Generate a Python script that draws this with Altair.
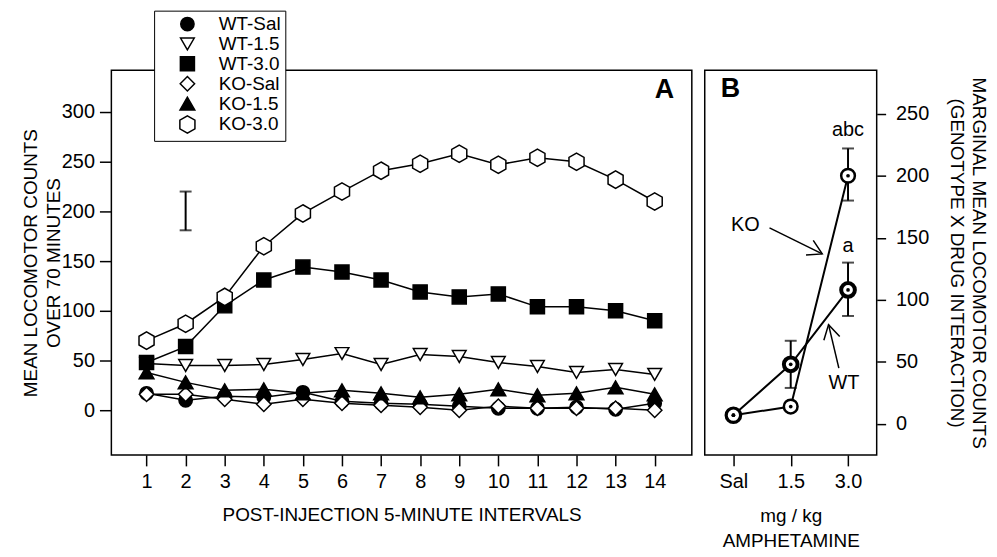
import math
import altair as alt
import pandas as pd

FONT = "Liberation Sans"

# ---------------- Panel A data ----------------
intervals = list(range(1, 15))
series_names = ["WT-Sal", "WT-1.5", "WT-3.0", "KO-Sal", "KO-1.5", "KO-3.0"]
wt_sal = [17, 10, 14, 13, 18, 9, 7, 6, 4, 2, 2, 3, 1, 7]
wt_15 = [47, 45, 45, 46, 51, 57, 46, 56, 54, 48, 44, 38, 41, 36]
wt_30 = [48, 64, 105, 131, 144, 139, 131, 119, 114, 117, 104, 104, 100, 90]
ko_sal = [16, 16, 11, 6, 11, 7, 5, 3, 0, 4, 2, 2, 2, 0]
ko_15 = [38, 28, 20, 21, 17, 20, 17, 13, 16, 21, 15, 17, 23, 16]
ko_30 = [70, 87, 114, 165, 198, 220, 241, 248, 258, 247, 254, 250, 232, 210]
series_values = [wt_sal, wt_15, wt_30, ko_sal, ko_15, ko_30]

lsd_interval = [2]
lsd_low = [181]
lsd_high = [220]
y_ticks_a = [0, 50, 100, 150, 200, 250, 300]

# ---------------- Panel B data ----------------
doses = ["Sal", "1.5", "3.0"]
dose_pos = [0, 1, 2]
genotypes = ["WT", "KO"]
wt_marginal = [7, 48, 108]
ko_marginal = [7, 14, 200]
err_genotype = ["WT", "WT", "KO"]
err_pos = [1, 2, 2]
err_low = [29, 87, 180]
err_high = [67, 130, 222]
y_ticks_b = [0, 50, 100, 150, 200, 250]
note_text = ["abc", "a", "KO", "WT"]
note_pos = [2.0, 2.0, 0.21, 1.93]
note_val = [237, 143, 160, 33]
arrow_names = ["KO", "WT"]
arrow_start_pos = [0.63, 1.84]
arrow_start_val = [158, 45]
arrow_tip_pos = [1.55, 1.66]
arrow_tip_val = [137, 80]

# ---------------- styles / geometry ----------------
HEX = "M0,-1.15L1,-0.575L1,0.575L0,1.15L-1,0.575L-1,-0.575Z"
VHEAD = "M-1,-0.58L0,0L-1,0.58"
series_shapes = ["circle", "triangle-down", "square", "diamond", "triangle-up", HEX]
series_fills = ["black", "white", "black", "white", "black", "white"]
series_strokes = ["black"] * 6
series_sizes = [180, 230, 200, 250, 230, 220]

A_W, A_H = 584, 387
B_W, B_H = 173, 387
XA_DOM = [0.1, 14.95]
YA_DOM = [-45, 342]
XB_DOM = [-0.5, 2.5]
YB_DOM = [-25, 285]

# ---------------- Panel A ----------------
dfA = pd.DataFrame(
    [
        {"series": s, "interval": i, "count": v}
        for s, vals in zip(series_names, series_values)
        for i, v in zip(intervals, vals)
    ]
)
dfLsd = pd.DataFrame({"interval": lsd_interval, "lo": lsd_low, "hi": lsd_high})
dfLetterA = pd.DataFrame({"interval": [14.25], "count": [322], "t": ["A"]})

sxA = alt.Scale(domain=XA_DOM, nice=False, zero=False)
syA = alt.Scale(domain=YA_DOM, nice=False, zero=False)
axA_x = alt.Axis(
    values=intervals,
    title="POST-INJECTION 5-MINUTE INTERVALS",
    tickSize=11,
    labelPadding=6,
    titlePadding=14,
    labelOverlap=False,
)
axA_y = alt.Axis(
    values=y_ticks_a,
    title=["MEAN LOCOMOTOR COUNTS", "OVER 70 MINUTES"],
    tickSize=12,
    labelPadding=5,
    titlePadding=-2,
    titleLineHeight=23,
    labelOverlap=False,
)


def XA(field):
    return alt.X(field, type="quantitative", scale=sxA, axis=axA_x)


def YA(field):
    return alt.Y(field, type="quantitative", scale=syA, axis=axA_y)


legendA = alt.Legend(
    title=None,
    orient="none",
    legendX=43,
    legendY=-60,
    padding=4,
    rowPadding=-2,
    symbolOffset=20,
    labelOffset=22,
    labelFont=FONT,
    labelFontSize=19,
    labelColor="black",
    strokeColor="black",
    fillColor="white",
    symbolStrokeColor="black",
    symbolStrokeWidth=1.5,
)

linesA = alt.Chart(dfA).mark_line(color="black", strokeWidth=1.5).encode(
    x=XA("interval"), y=YA("count"), detail="series:N"
)
pointsA = alt.Chart(dfA).mark_point(
    filled=True, opacity=1, strokeWidth=1.5
).encode(
    x=XA("interval"),
    y=YA("count"),
    shape=alt.Shape("series:N", scale=alt.Scale(domain=series_names, range=series_shapes), legend=legendA),
    fill=alt.Fill("series:N", scale=alt.Scale(domain=series_names, range=series_fills), legend=legendA),
    stroke=alt.Stroke("series:N", scale=alt.Scale(domain=series_names, range=series_strokes), legend=legendA),
    size=alt.Size("series:N", scale=alt.Scale(domain=series_names, range=series_sizes), legend=legendA),
)
lsdA = alt.Chart(dfLsd).mark_errorbar(ticks=True, size=12, thickness=2, color="black").encode(
    x=XA("interval"), y=YA("lo"), y2="hi:Q"
)
letterA = alt.Chart(dfLetterA).mark_text(
    font=FONT, fontSize=27, fontWeight="bold", color="black"
).encode(x=XA("interval"), y=YA("count"), text="t:N")

panelA = alt.layer(linesA, pointsA, lsdA, letterA).properties(width=A_W, height=A_H)

# ---------------- Panel B ----------------
dfB = pd.DataFrame(
    [
        {"genotype": g, "pos": p, "val": v}
        for g, vals in zip(genotypes, [wt_marginal, ko_marginal])
        for p, v in zip(dose_pos, vals)
    ]
)
dfErrB = pd.DataFrame({"genotype": err_genotype, "pos": err_pos, "lo": err_low, "hi": err_high})
dfNotes = pd.DataFrame({"pos": note_pos, "val": note_val, "t": note_text})
dfLetterB = pd.DataFrame({"pos": [-0.05], "val": [270], "t": ["B"]})

kx = B_W / (XB_DOM[1] - XB_DOM[0])
ky = B_H / (YB_DOM[1] - YB_DOM[0])
shaft_rows = []
head_rows = []
for n, sp, sv, tp, tv in zip(arrow_names, arrow_start_pos, arrow_start_val, arrow_tip_pos, arrow_tip_val):
    shaft_rows.append({"arrow": n, "pos": sp, "val": sv})
    shaft_rows.append({"arrow": n, "pos": tp, "val": tv})
    ang = math.degrees(math.atan2(-(tv - sv) * ky, (tp - sp) * kx)) % 360
    head_rows.append({"arrow": n, "pos": tp, "val": tv, "angle": ang})
dfShaft = pd.DataFrame(shaft_rows)
dfHead = pd.DataFrame(head_rows)

sxB = alt.Scale(domain=XB_DOM, nice=False, zero=False)
syB = alt.Scale(domain=YB_DOM, nice=False, zero=False)
dose_js = "[" + ",".join("'" + d + "'" for d in doses) + "]"
axB_x = alt.Axis(
    values=dose_pos,
    labelExpr=dose_js + "[datum.value]",
    title=["mg / kg", "AMPHETAMINE"],
    tickSize=11,
    labelPadding=6,
    titlePadding=15,
    titleLineHeight=25,
    labelOverlap=False,
)
axB_y = alt.Axis(
    orient="right",
    values=y_ticks_b,
    title=["MARGINAL MEAN LOCOMOTOR COUNTS", "(GENOTYPE X DRUG INTERACTION)"],
    tickSize=9,
    labelPadding=10,
    titlePadding=18,
    titleLineHeight=22,
    labelOverlap=False,
)


def XB(field):
    return alt.X(field, type="quantitative", scale=sxB, axis=axB_x)


def YB(field):
    return alt.Y(field, type="quantitative", scale=syB, axis=axB_y)


linesB = alt.Chart(dfB).mark_line(color="black", strokeWidth=2).encode(
    x=XB("pos"), y=YB("val"), detail="genotype:N"
)
errB = alt.Chart(dfErrB).mark_errorbar(ticks=True, size=12, thickness=2, color="black").encode(
    x=XB("pos"), y=YB("lo"), y2="hi:Q"
)
shaftB = alt.Chart(dfShaft).mark_line(color="black", strokeWidth=1.5).encode(
    x=XB("pos"), y=YB("val"), detail="arrow:N"
)
headB = alt.Chart(dfHead).mark_point(
    shape=VHEAD, filled=False, color="black", strokeWidth=1.5, size=800, opacity=1
).encode(x=XB("pos"), y=YB("val"), angle=alt.Angle("angle:Q", scale=None))
ringB = alt.Chart(dfB).mark_point(
    shape="circle", filled=True, fill="white", stroke="black", size=190, opacity=1
).encode(
    x=XB("pos"),
    y=YB("val"),
    strokeWidth=alt.StrokeWidth(
        "genotype:N", scale=alt.Scale(domain=genotypes, range=[4, 2.5]), legend=None
    ),
)
dotB = alt.Chart(dfB).mark_point(shape="circle", filled=True, color="black", size=14, opacity=1).encode(
    x=XB("pos"), y=YB("val")
)
notesB = alt.Chart(dfNotes).mark_text(font=FONT, fontSize=20, color="black").encode(
    x=XB("pos"), y=YB("val"), text="t:N"
)
letterB = alt.Chart(dfLetterB).mark_text(
    font=FONT, fontSize=27, fontWeight="bold", color="black"
).encode(x=XB("pos"), y=YB("val"), text="t:N")

panelB = alt.layer(linesB, errB, shaftB, headB, ringB, dotB, notesB, letterB).properties(
    width=B_W, height=B_H
)

chart = (
    alt.hconcat(panelA, panelB, spacing=11)
    .properties(padding={"left": 12, "top": 0, "right": 0, "bottom": 0})
    .configure_view(stroke="black", strokeWidth=1.5)
    .configure_axis(
        labelFont=FONT,
        labelFontSize=20,
        titleFont=FONT,
        titleFontSize=19,
        titleFontWeight="normal",
        labelColor="black",
        titleColor="black",
        tickColor="black",
        tickWidth=1.5,
        domain=False,
        grid=False,
    )
)

chart.save("out.html", embed_options={"renderer": "svg", "actions": False})
